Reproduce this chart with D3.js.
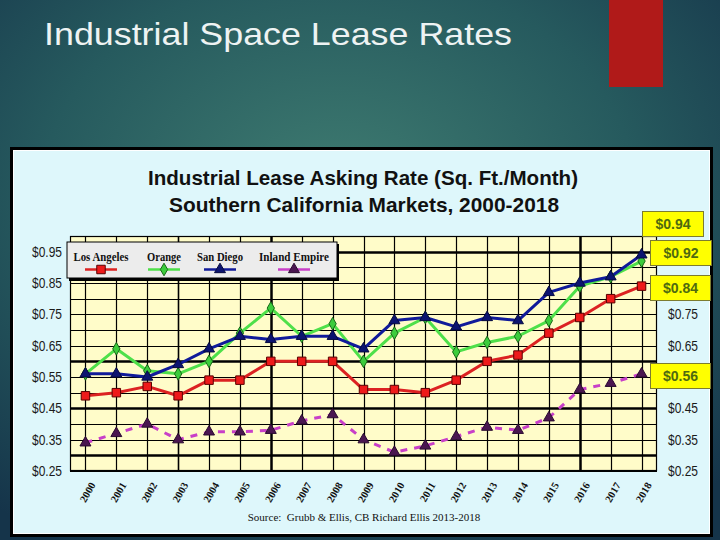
<!DOCTYPE html>
<html>
<head>
<meta charset="utf-8">
<script src="https://cdn.jsdelivr.net/npm/d3@7"></script>
<style>
  html, body { margin: 0; padding: 0; background: #1a3c4a; }
  svg { display: block; }
</style>
</head>
<body>
<svg id="chart" width="720" height="540"></svg>
<script>
// ---------------- DATA ----------------
const years = ["2000","2001","2002","2003","2004","2005","2006","2007","2008","2009",
               "2010","2011","2012","2013","2014","2015","2016","2017","2018"];
const losAngeles   = [0.49,0.50,0.52,0.49,0.54,0.54,0.60,0.60,0.60,0.51,0.51,0.50,0.54,0.60,0.62,0.69,0.74,0.80,0.84];
const orange       = [0.56,0.64,0.57,0.56,0.60,0.69,0.77,0.68,0.72,0.60,0.69,0.74,0.63,0.66,0.68,0.73,0.84,0.87,0.92];
const sanDiego     = [0.56,0.56,0.55,0.59,0.64,0.68,0.67,0.68,0.68,0.64,0.73,0.74,0.71,0.74,0.73,0.82,0.85,0.87,0.94];
const inlandEmpire = [0.34,0.37,0.40,0.35,0.375,0.375,0.38,0.41,0.43,0.35,0.31,0.33,0.36,0.39,0.38,0.42,0.51,0.53,0.56];
const seriesNames  = ["Los Angeles","Orange","San Diego","Inland Empire"];
const yTickValues      = [0.25,0.35,0.45,0.55,0.65,0.75,0.85,0.95];
const yTickValuesRight = [0.25,0.35,0.45,0.65,0.75];   // others are covered by the value callouts
const slideTitle   = "Industrial Space Lease Rates";
const chartTitle1  = "Industrial Lease Asking Rate (Sq. Ft./Month)";
const chartTitle2  = "Southern California Markets, 2000-2018";
const sourceText   = "Source:  Grubb & Ellis, CB Richard Ellis 2013-2018";

// ---------------- SETUP ----------------
const svg = d3.select("#chart");
const defs = svg.append("defs");
const grad = defs.append("radialGradient").attr("id","bg")
  .attr("cx","47%").attr("cy","36%").attr("r","75%");
grad.append("stop").attr("offset","0%").attr("stop-color","#3f7c71");
grad.append("stop").attr("offset","55%").attr("stop-color","#265a5e");
grad.append("stop").attr("offset","100%").attr("stop-color","#15344a");

svg.append("rect").attr("width",720).attr("height",540).attr("fill","url(#bg)");

// red accent bar
svg.append("rect").attr("x",609).attr("y",0).attr("width",54).attr("height",87).attr("fill","#b01a19");

// slide title
svg.append("text").attr("x",44).attr("y",45)
  .attr("font-family","Liberation Sans, Arial, sans-serif").attr("font-size",32)
  .attr("fill","#eef3f3").attr("textLength",468).attr("lengthAdjust","spacingAndGlyphs")
  .text(slideTitle);

// panel
svg.append("rect").attr("x",11.5).attr("y",148.5).attr("width",700).attr("height",387)
  .attr("fill","#def7fb").attr("stroke","#000").attr("stroke-width",3);
svg.append("rect").attr("x",13.5).attr("y",150.5).attr("width",696).attr("height",383)
  .attr("fill","none").attr("stroke","#ffffff").attr("stroke-width",1);

// chart titles
svg.append("text").attr("x",363).attr("y",185).attr("text-anchor","middle")
  .attr("font-family","Liberation Sans, Arial, sans-serif").attr("font-weight","bold").attr("font-size",21)
  .attr("fill","#111").attr("textLength",430).attr("lengthAdjust","spacingAndGlyphs")
  .text(chartTitle1);
svg.append("text").attr("x",364).attr("y",212).attr("text-anchor","middle")
  .attr("font-family","Liberation Sans, Arial, sans-serif").attr("font-weight","bold").attr("font-size",21)
  .attr("fill","#111").attr("textLength",390).attr("lengthAdjust","spacingAndGlyphs")
  .text(chartTitle2);

// ---------------- SCALES ----------------
const plotL = 70, plotR = 657, plotT = 236, plotB = 471;
const x = d3.scalePoint().domain(years).range([plotL, plotR]).padding(0.5);
const y = d3.scaleLinear().domain([0.25, 1.0]).range([plotB, plotT]);

// plot background
svg.append("rect").attr("x",plotL).attr("y",plotT).attr("width",plotR-plotL).attr("height",plotB-plotT)
  .attr("fill","#fffcc9");

// grid
const grid = svg.append("g");
const hVals = d3.range(0, 16).map(i => 0.25 + i*0.05);
const thickH = [0.30, 0.45, 0.60, 0.95];
grid.selectAll("line.h").data(hVals).join("line")
  .attr("x1",plotL).attr("x2",plotR)
  .attr("y1",d => Math.round(y(d))+0.5).attr("y2",d => Math.round(y(d))+0.5)
  .attr("stroke","#000")
  .attr("stroke-width",d => thickH.some(t => Math.abs(t-d)<1e-6) ? 2.5 : 1.2);
const thickV = {"2006":2.5, "2016":2.5, "2003":1.6};
grid.selectAll("line.v").data(years).join("line")
  .attr("x1",d => Math.round(x(d))+0.5).attr("x2",d => Math.round(x(d))+0.5)
  .attr("y1",plotT).attr("y2",plotB)
  .attr("stroke","#000").attr("stroke-width",d => thickV[d] || 1.2);
grid.append("rect").attr("x",plotL+0.5).attr("y",plotT+0.5).attr("width",plotR-plotL-1).attr("height",plotB-plotT-1)
  .attr("fill","none").attr("stroke","#000").attr("stroke-width",1.2);

// axes
const fmt = d => "$" + d.toFixed(2);
const axisFont = "Liberation Sans, Arial, sans-serif";
const leftAxis = svg.append("g").attr("transform",`translate(${plotL},0)`)
  .call(d3.axisLeft(y).tickValues(yTickValues).tickFormat(fmt).tickSize(0).tickPadding(8));
const rightAxis = svg.append("g").attr("transform",`translate(${plotR},0)`)
  .call(d3.axisRight(y).tickValues(yTickValuesRight).tickFormat(fmt).tickSize(0).tickPadding(11));
[leftAxis, rightAxis].forEach(a => {
  a.select(".domain").remove();
  a.selectAll("text").attr("font-family",axisFont).attr("font-size",14).attr("fill","#1a1a1a")
    .attr("textLength",30).attr("lengthAdjust","spacingAndGlyphs");
});

const bottomAxis = svg.append("g").attr("transform",`translate(0,${plotB})`)
  .call(d3.axisBottom(x).tickSize(0).tickPadding(0));
bottomAxis.select(".domain").remove();
bottomAxis.selectAll("text")
  .attr("font-family","Liberation Serif, Times New Roman, serif").attr("font-size",10.5)
  .attr("font-weight","bold").attr("fill","#111")
  .attr("text-anchor","end").attr("dy",0)
  .attr("transform","translate(10,14) rotate(-60)");

// ---------------- SERIES ----------------
const series = [
  {name: seriesNames[3], values: inlandEmpire, line:"#c83fc8", dash:"7,7", marker:"triangle", fill:"#4a1650", stroke:"#2a0a30"},
  {name: seriesNames[0], values: losAngeles,   line:"#dc2222", dash:null, marker:"square",   fill:"#ee1a1a", stroke:"#5a0000"},
  {name: seriesNames[1], values: orange,       line:"#4ee04a", dash:null, marker:"diamond",  fill:"#3ccc3c", stroke:"#176817"},
  {name: seriesNames[2], values: sanDiego,     line:"#101a9a", dash:null, marker:"triangle", fill:"#0c1470", stroke:"#060a40"}
];
const symType = {square: d3.symbolSquare, diamond: d3.symbolDiamond, triangle: d3.symbolTriangle};
const symSize = {square: 72, diamond: 46, triangle: 52};
const lineGen = d3.line().x((d,i) => x(years[i])).y(d => y(d));

series.forEach(s => {
  svg.append("path").datum(s.values).attr("d",lineGen)
    .attr("fill","none").attr("stroke",s.line).attr("stroke-width",3)
    .attr("stroke-dasharray",s.dash).attr("stroke-linejoin","round");
});
series.forEach(s => {
  svg.append("g").selectAll("path").data(s.values).join("path")
    .attr("transform",(d,i) => `translate(${x(years[i])},${y(d)})`)
    .attr("d",d3.symbol().type(symType[s.marker]).size(symSize[s.marker]))
    .attr("fill",s.fill).attr("stroke",s.stroke).attr("stroke-width",1);
});

// ---------------- LEGEND ----------------
const lg = svg.append("g");
lg.append("rect").attr("x",69).attr("y",244).attr("width",270).attr("height",37).attr("fill","#000");
lg.append("rect").attr("x",67).attr("y",242).attr("width",270).attr("height",36)
  .attr("fill","#ececec").attr("stroke","#000").attr("stroke-width",1);
const legendOrder = [series[1], series[2], series[3], series[0]];
const legendX = [101, 164, 220, 294];
const legendW = [55, 34, 46, 70];
legendOrder.forEach((s,i) => {
  const cx = legendX[i];
  lg.append("text").attr("x",cx).attr("y",261).attr("text-anchor","middle")
    .attr("font-family","Liberation Serif, Times New Roman, serif").attr("font-weight","bold")
    .attr("font-size",12).attr("fill","#111")
    .attr("textLength",legendW[i]).attr("lengthAdjust","spacingAndGlyphs").text(s.name);
  lg.append("line").attr("x1",cx-16).attr("x2",cx+16).attr("y1",269.5).attr("y2",269.5)
    .attr("stroke",s.line).attr("stroke-width",2.5);
  lg.append("path").attr("transform",`translate(${cx},269.5)`)
    .attr("d",d3.symbol().type(symType[s.marker]).size(symSize[s.marker]))
    .attr("fill",s.fill).attr("stroke",s.stroke).attr("stroke-width",1);
});

// ---------------- CALLOUTS (last value of each series) ----------------
const calloutList = [
  {vals: inlandEmpire, x0: 650, dy: 1.5,   w: 60},
  {vals: losAngeles,   x0: 650, dy: 1,     w: 60},
  {vals: sanDiego,     x0: 642, dy: -31.5, w: 61},
  {vals: orange,       x0: 650, dy: -9,    w: 61}
];
calloutList.forEach(c => {
  const v = c.vals[c.vals.length-1];
  const cy = y(v) + c.dy;
  svg.append("rect").attr("x",c.x0+0.5).attr("y",Math.round(cy-12.5)+0.5).attr("width",c.w).attr("height",25)
    .attr("fill","#ffff00").attr("stroke","#7c7c30").attr("stroke-width",1);
  svg.append("text").attr("x",c.x0+c.w/2+0.5).attr("y",Math.round(cy-12.5)+18)
    .attr("text-anchor","middle").attr("font-family","Liberation Sans, Arial, sans-serif")
    .attr("font-weight","bold").attr("font-size",14).attr("fill","#4e6a10").text(fmt(v));
});

// source
svg.append("text").attr("x",364).attr("y",521).attr("text-anchor","middle")
  .attr("font-family","Liberation Serif, Times New Roman, serif").attr("font-size",11)
  .attr("fill","#111").style("white-space","pre").text(sourceText);
</script>
</body>
</html>
